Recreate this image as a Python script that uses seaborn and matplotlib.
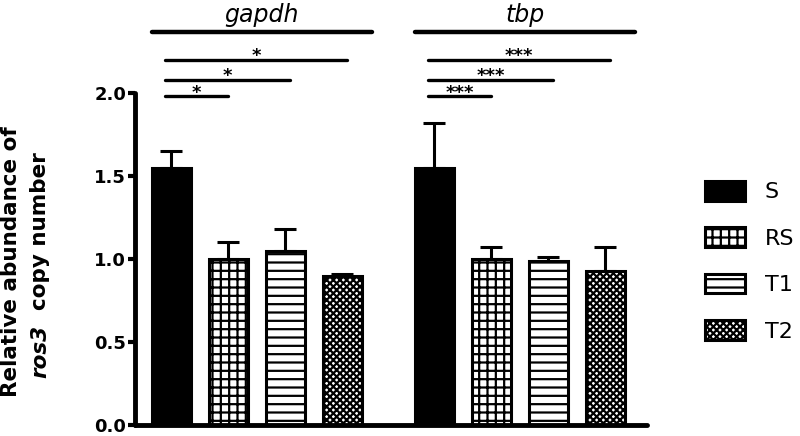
import numpy as np
import pandas as pd
import matplotlib
matplotlib.use("Agg")
import matplotlib.pyplot as plt
import seaborn as sns

genes = ["gapdh", "tbp"]
groups = ["S", "RS", "T1", "T2"]
gapdh_mean = [1.55, 1.00, 1.05, 0.90]
gapdh_top = [1.65, 1.10, 1.18, 0.91]
tbp_mean = [1.55, 1.00, 0.99, 0.93]
tbp_top = [1.82, 1.07, 1.01, 1.07]
gapdh_stars = ["*", "*", "*"]
tbp_stars = ["***", "***", "***"]
hatches = ["", "++", "--", "xxxxx"]

sns.set_style("ticks")
plt.rcParams["font.family"] = ["DejaVu Sans"]
plt.rcParams["hatch.linewidth"] = 1.6
for key in ["text.color", "axes.labelcolor", "axes.edgecolor", "xtick.color", "ytick.color"]:
    plt.rcParams[key] = "black"

df = pd.DataFrame({
    "gene": np.repeat(genes, len(groups)),
    "group": groups * len(genes),
    "value": gapdh_mean + tbp_mean,
})
tops = {"gapdh": gapdh_top, "tbp": tbp_top}
stars = {"gapdh": gapdh_stars, "tbp": tbp_stars}

fig = plt.figure(figsize=(8, 4.36), dpi=100)
ax = fig.add_axes([0.169, 0.0252, 0.64, 0.9748])

sns.barplot(
    data=df, x="gene", y="value", hue="group",
    order=genes, hue_order=groups,
    palette=["black", "white", "white", "white"],
    edgecolor="black", linewidth=2.2,
    width=0.867, gap=0.32, errorbar=None, legend=False, ax=ax
)

# hatches + error bars (upper only)
bar_conts = list(ax.containers)
centers = {}
for i, cont in enumerate(bar_conts):
    for j, bar in enumerate(cont.patches):
        bar.set_hatch(hatches[i])
        bar.set_edgecolor("black")
        cx = bar.get_x() + bar.get_width() / 2
        centers[(genes[j], i)] = (cx, bar.get_x(), bar.get_x() + bar.get_width())
        val = bar.get_height()
        up = tops[genes[j]][i]
        ax.errorbar(cx, val, yerr=[[0], [up - val]], fmt="none", ecolor="black",
                    elinewidth=2.2, capsize=8, capthick=2.2, zorder=1)

ax.set_ylim(0, 2.56)
ax.set_xlim(-0.462, 1.485)
ax.set_yticks([0, 0.5, 1.0, 1.5, 2.0])
ax.set_yticklabels(["0.0", "0.5", "1.0", "1.5", "2.0"], fontsize=13, fontweight="bold")
ax.tick_params(axis="y", length=5, width=3, pad=1.5)
ax.tick_params(axis="x", bottom=False, labelbottom=False)
ax.set_xlabel("")
ax.set_ylabel("")
sns.despine(ax=ax)
ax.spines["left"].set_bounds(0, 2.0)
ax.spines["bottom"].set_bounds(-0.462, 1.485)
for s in ["left", "bottom"]:
    ax.spines[s].set_linewidth(3.5)
    ax.spines[s].set_capstyle("round")

# gene headers and significance bars
sig_y = [1.98, 2.08, 2.20]
for g in genes:
    s_c, s_l, _ = centers[(g, 0)]
    _, _, t2_r = centers[(g, 3)]
    ax.plot([s_l, t2_r + 0.04], [2.37, 2.37], color="black", lw=3.2,
            solid_capstyle="round", clip_on=False)
    ax.text((s_l + t2_r + 0.04) / 2, 2.47, g, ha="center", va="center",
            fontsize=17, style="italic")
    for k in range(3):
        t_c = centers[(g, k + 1)][0]
        x0 = s_c - 0.025
        x1 = t_c + (0.02 if k > 0 else 0)
        ax.plot([x0, x1], [sig_y[k], sig_y[k]], color="black", lw=2.4,
                solid_capstyle="round")
        ax.text((x0 + x1) / 2, sig_y[k] - 0.008, stars[g][k], ha="center",
                va="baseline", fontsize=13, fontweight="bold")

# legend
handles = [c.patches[0] for c in bar_conts]
leg = fig.legend(handles, groups, loc="center left", bbox_to_anchor=(0.881, 0.401),
                 frameon=False, fontsize=16, handlelength=1.8, handleheight=1.0,
                 handletextpad=0.9, labelspacing=1.12, borderpad=0, borderaxespad=0)

# y label, two lines with italic gene name
fig.text(17 / 800, 1 - 262 / 436, "Relative abundance of", rotation=90,
         rotation_mode="anchor", ha="center", va="baseline",
         fontsize=15.5, fontweight="bold")
fig.canvas.draw()
r = fig.canvas.get_renderer()
y_start = 1 - 378 / 436
t1 = fig.text(46 / 800, y_start, "ros3", rotation=90, rotation_mode="anchor",
              ha="left", va="baseline", fontsize=15.5, fontweight="bold", style="italic")
h1 = t1.get_window_extent(r).height / fig.bbox.height
fig.text(46 / 800, y_start + h1, "  copy number", rotation=90, rotation_mode="anchor",
         ha="left", va="baseline", fontsize=15.5, fontweight="bold")

fig.savefig("out.png", dpi=100)
